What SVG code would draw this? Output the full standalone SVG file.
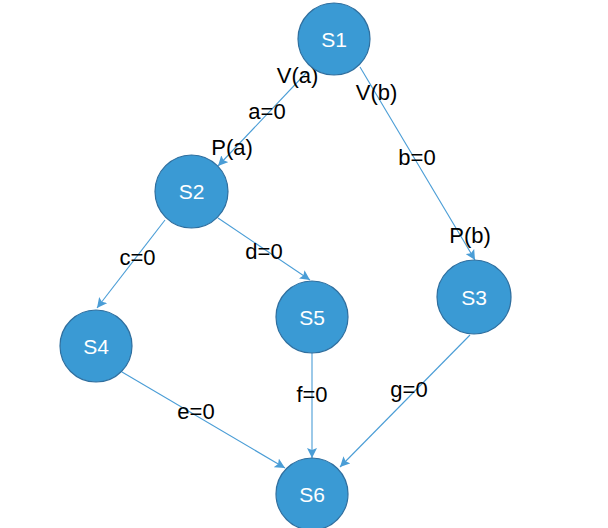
<svg xmlns="http://www.w3.org/2000/svg" width="608" height="528" viewBox="0 0 608 528">
  <style>
    .node circle { fill: #3a9ad4; stroke: #2f6f9f; stroke-width: 1.2; }
    .node text { fill: #ffffff; font-family: "Liberation Sans", Arial, sans-serif; font-size: 21px; text-anchor: middle; dominant-baseline: central; }
    .edge { stroke: #4a9dd6; stroke-width: 1.1; fill: none; marker-end: url(#arrow); }
    .lbl { fill: #000000; font-family: "Liberation Sans", Arial, sans-serif; font-size: 22px; text-anchor: middle; }
  </style>
  <defs>
    <marker id="arrow" viewBox="0 0 10 10" refX="10" refY="5" markerWidth="10" markerHeight="10" markerUnits="userSpaceOnUse" orient="auto">
      <path d="M0,0 L10,5 L0,10 L2,5 Z" fill="#4a9dd6"/>
    </marker>
  </defs>
  <rect width="608" height="528" fill="#ffffff"/>

  <g id="connectors">
    <line class="edge" x1="307" y1="72" x2="218" y2="166"/>
    <line class="edge" x1="360" y1="67" x2="475" y2="260"/>
    <line class="edge" x1="165" y1="220" x2="97" y2="308"/>
    <line class="edge" x1="218" y1="218" x2="310" y2="280"/>
    <line class="edge" x1="122" y1="372" x2="285" y2="468"/>
    <line class="edge" x1="312" y1="353" x2="312" y2="458"/>
    <line class="edge" x1="470" y1="335" x2="340" y2="467"/>
  </g>

  <g id="labels">
    <text class="lbl" x="297.5" y="83">V(a)</text>
    <text class="lbl" x="376.5" y="100">V(b)</text>
    <text class="lbl" x="267" y="119">a=0</text>
    <text class="lbl" x="232" y="155">P(a)</text>
    <text class="lbl" x="417" y="165">b=0</text>
    <text class="lbl" x="470" y="243">P(b)</text>
    <text class="lbl" x="137.5" y="265">c=0</text>
    <text class="lbl" x="264" y="259">d=0</text>
    <text class="lbl" x="196" y="419">e=0</text>
    <text class="lbl" x="312" y="402">f=0</text>
    <text class="lbl" x="409" y="397">g=0</text>
  </g>

  <g id="S1" class="node"><circle cx="334" cy="39" r="36"/><text x="334" y="39">S1</text></g>
  <g id="S2" class="node"><circle cx="191.5" cy="191.5" r="36.5"/><text x="191.5" y="191.5">S2</text></g>
  <g id="S3" class="node"><circle cx="474" cy="297" r="37"/><text x="474" y="297">S3</text></g>
  <g id="S4" class="node"><circle cx="96" cy="346" r="36"/><text x="96" y="346">S4</text></g>
  <g id="S5" class="node"><circle cx="312" cy="317" r="36"/><text x="312" y="317">S5</text></g>
  <g id="S6" class="node"><circle cx="312" cy="494" r="36"/><text x="312" y="494">S6</text></g>
</svg>
